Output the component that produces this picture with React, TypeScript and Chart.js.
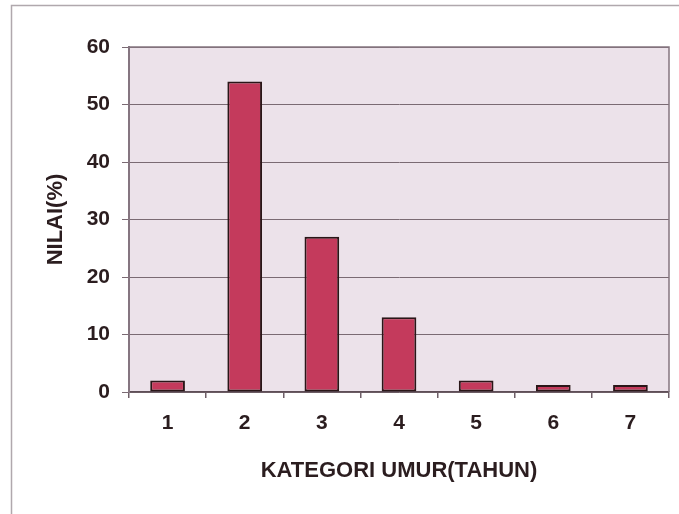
import React, { useEffect, useRef } from "react";
import { Chart, registerables } from "chart.js";

Chart.register(...registerables);

const categories = ["1", "2", "3", "4", "5", "6", "7"];
const values = [2, 54, 27, 13, 2, 1.2, 1.2];
const yTicks = [0, 10, 20, 30, 40, 50, 60];
const xTitle = "KATEGORI UMUR(TAHUN)";
const yTitle = "NILAI(%)";

const FONT = "'Liberation Sans', Arial, sans-serif";
const TEXT = "#2b1d1f";

const framePlugin = {
  id: "frame",
  beforeDraw(chart: any) {
    const { ctx, chartArea: a } = chart;
    ctx.save();
    ctx.fillStyle = "#ffffff";
    ctx.fillRect(0, 0, chart.width, chart.height);
    // outer frame
    ctx.strokeStyle = "#b0a8ad";
    ctx.lineWidth = 1.5;
    ctx.beginPath();
    ctx.moveTo(11.5, chart.height);
    ctx.lineTo(11.5, 5.5);
    ctx.lineTo(chart.width, 5.5);
    ctx.stroke();
    // plot background
    ctx.fillStyle = "#ece2ea";
    ctx.fillRect(a.left, a.top, a.right - a.left, a.bottom - a.top);
    ctx.restore();
  },
  beforeDatasetsDraw(chart: any) {
    const { ctx, chartArea: a } = chart;
    ctx.save();
    ctx.strokeStyle = "#857580";
    ctx.lineWidth = 1.5;
    ctx.beginPath();
    ctx.moveTo(a.left, a.top);
    ctx.lineTo(a.right, a.top);
    ctx.lineTo(a.right, a.bottom);
    ctx.stroke();
    ctx.restore();
  },
};

export default function App() {
  const ref = useRef<HTMLCanvasElement | null>(null);

  useEffect(() => {
    if (!ref.current) return;
    const chart = new Chart(ref.current, {
      type: "bar",
      data: {
        labels: categories,
        datasets: [
          {
            data: values,
            backgroundColor: "#c43a5c",
            borderColor: "#2a1618",
            borderWidth: 2,
            borderSkipped: false,
            categoryPercentage: 1,
            barPercentage: 0.45,
          },
        ],
      },
      options: {
        responsive: false,
        animation: false,
        devicePixelRatio: 1,
        layout: { padding: { top: 47, right: 10, left: 0, bottom: 0 } },
        plugins: {
          legend: { display: false },
          tooltip: { enabled: false },
        },
        scales: {
          x: {
            grid: {
              offset: true,
              drawOnChartArea: false,
              drawTicks: true,
              tickLength: 6,
              color: "#6f5f68",
              lineWidth: 1.5,
            },
            border: { display: true, color: "#5e4e57", width: 1.5 },
            ticks: {
              color: TEXT,
              padding: 13,
              font: { family: FONT, size: 21, weight: "bold" },
            },
            title: {
              display: true,
              text: xTitle,
              color: TEXT,
              padding: { top: 0, bottom: 30 },
              font: { family: FONT, size: 22, weight: "bold" },
            },
            afterFit(scale: any) {
              scale.height = 122;
            },
          },
          y: {
            min: 0,
            max: 60,
            afterBuildTicks(scale: any) {
              scale.ticks = yTicks.map((v) => ({ value: v }));
            },
            grid: {
              color: "#7a6a73",
              lineWidth: 1,
              tickLength: 7,
              drawTicks: true,
            },
            border: { display: true, color: "#857580", width: 2 },
            ticks: {
              color: TEXT,
              padding: 12,
              stepSize: 10,
              font: { family: FONT, size: 21, weight: "bold" },
            },
            title: {
              display: true,
              text: yTitle,
              color: TEXT,
              padding: { top: 43, bottom: 0 },
              font: { family: FONT, size: 22, weight: "bold" },
            },
            afterFit(scale: any) {
              scale.width = 129;
            },
          },
        },
      },
      plugins: [framePlugin],
    } as any);
    return () => chart.destroy();
  }, []);

  return (
    <div style={{ position: "fixed", left: 0, top: 0, width: 679, height: 514 }}>
      <canvas ref={ref} width={679} height={514} style={{ display: "block" }} />
    </div>
  );
}
